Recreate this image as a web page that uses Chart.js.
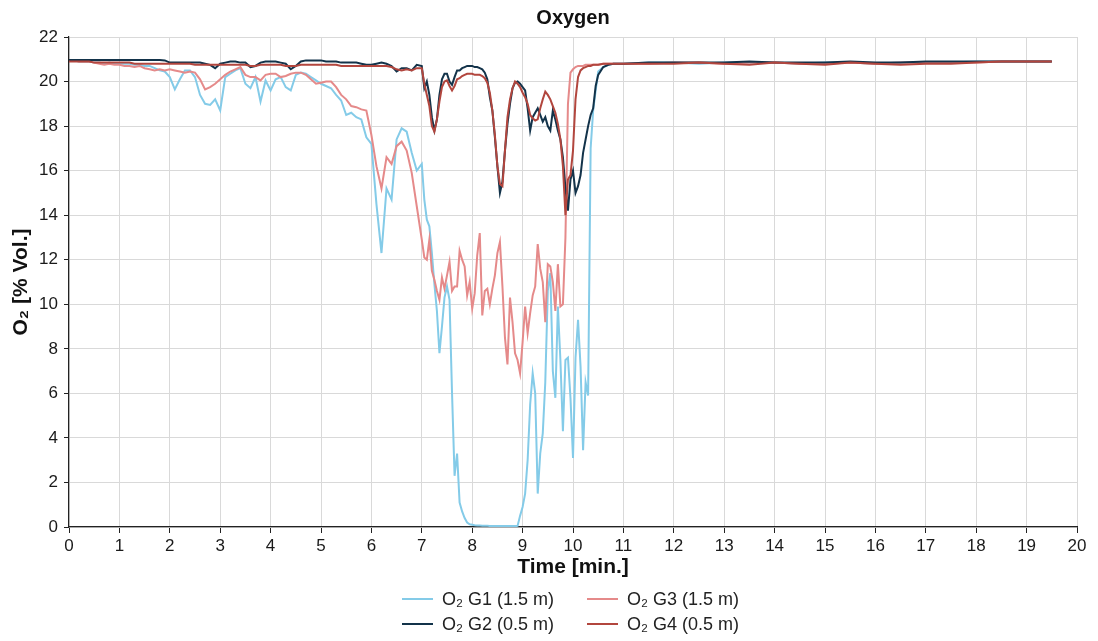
<!DOCTYPE html>
<html lang="en">
<head>
    <meta charset="UTF-8">
    <title>Oxygen</title>
    <script src="https://cdn.jsdelivr.net/npm/chart.js"></script>
    <style>
        body { margin: 0; background: #fff; font-family: "Liberation Sans", Arial, sans-serif; }
        #wrap { position: relative; width: 1098px; height: 641px; }
        #legend { position: absolute; left: 402px; top: 588px; display: grid; grid-template-columns: 185px 175px; row-gap: 3px; font-size: 18px; color: #222; }
        .item { display: flex; align-items: center; height: 22px; white-space: nowrap; }
        .swatch { width: 31px; height: 2px; margin-right: 9px; }
    </style>
</head>
<body>
    <div id="wrap">
        <canvas id="myChart" width="1098" height="641"></canvas>
        <div id="legend"></div>
    </div>

    <script>
        // sample times [min.]
        const times = [
            0, 0.1, 0.2, 0.3, 0.4, 0.5, 0.6, 0.7, 0.8, 0.9,
            1, 1.1, 1.2, 1.3, 1.4, 1.5, 1.6, 1.7, 1.8, 1.9,
            2, 2.1, 2.2, 2.3, 2.4, 2.5, 2.6, 2.7, 2.8, 2.9,
            3, 3.1, 3.2, 3.3, 3.4, 3.5, 3.6, 3.7, 3.8, 3.9,
            4, 4.1, 4.2, 4.3, 4.4, 4.5, 4.6, 4.7, 4.8, 4.9,
            5, 5.1, 5.2, 5.3, 5.4, 5.5, 5.6, 5.7, 5.8, 5.9,
            6, 6.1, 6.2, 6.3, 6.4, 6.5, 6.6, 6.7, 6.8, 6.9,
            7, 7.05, 7.1, 7.15, 7.2, 7.25, 7.3, 7.35, 7.4, 7.45, 7.5, 7.55, 7.6, 7.65, 7.7, 7.75, 7.8, 7.85, 7.9, 7.95,
            8, 8.05, 8.1, 8.15, 8.2, 8.25, 8.3, 8.35, 8.4, 8.45, 8.5, 8.55, 8.6, 8.65, 8.7, 8.75, 8.8, 8.85, 8.9, 8.95,
            9, 9.05, 9.1, 9.15, 9.2, 9.25, 9.3, 9.35, 9.4, 9.45, 9.5, 9.55, 9.6, 9.65, 9.7, 9.75, 9.8, 9.85, 9.9, 9.95,
            10, 10.05, 10.1, 10.15, 10.2, 10.25, 10.3, 10.35, 10.4, 10.45, 10.5,
            10.6, 10.7, 10.8, 10.9, 11,
            11.5, 12, 12.5, 13, 13.5, 14, 14.5, 15, 15.5, 16, 16.5, 17, 17.5, 18, 18.5, 19, 19.5
        ];

        // O2 G1 (1.5 m)
        const g1 = [
            20.95, 20.95, 20.9, 20.9, 20.9, 20.85, 20.85, 20.8, 20.85, 20.8,
            20.8, 20.8, 20.8, 20.75, 20.75, 20.7, 20.7, 20.6, 20.5, 20.45,
            20.2, 19.65, 20.1, 20.5, 20.5, 20.2, 19.4, 19.0, 18.95, 19.2,
            18.7, 20.2, 20.35, 20.5, 20.6, 19.9, 19.7, 20.2, 19.1, 20.05,
            19.6, 20.1, 20.2, 19.75, 19.6, 20.3, 20.4, 20.35, 20.2, 20.05,
            19.9, 19.8, 19.7, 19.4, 19.15, 18.5, 18.6, 18.4, 18.3, 17.5,
            17.2, 14.5, 12.3, 15.2, 14.7, 17.4, 17.9, 17.75, 16.8, 16.0,
            16.3, 14.7, 13.8, 13.5, 12.3, 10.9, 9.7, 7.8, 9.0, 10.3, 10.8, 10.2, 6.0, 2.3, 3.3, 1.1, 0.7, 0.4, 0.2, 0.12,
            0.1, 0.08, 0.07, 0.07, 0.06, 0.06, 0.06, 0.05, 0.05, 0.05, 0.05, 0.05, 0.04, 0.04, 0.04, 0.04, 0.04, 0.04, 0.05, 0.5,
            0.9, 1.5, 3.0, 5.5, 6.9, 6.0, 1.5, 3.3, 4.2, 6.5, 10.6, 11.4, 7.0, 5.8, 9.9, 7.5, 4.3, 7.5, 7.6, 5.8,
            3.1, 7.6, 9.3, 7.2, 3.45, 6.5, 5.9, 17.0, 18.7, 19.6, 20.45,
            20.65, 20.75, 20.8, 20.8, 20.8,
            20.85, 20.85, 20.8, 20.85, 20.85, 20.85, 20.8, 20.85, 20.85, 20.8, 20.85, 20.85, 20.85, 20.9, 20.9, 20.9, 20.9
        ];

        // O2 G2 (0.5 m)
        const g2 = [
            20.97, 20.97, 20.97, 20.97, 20.97, 20.97, 20.97, 20.97, 20.97, 20.97,
            20.97, 20.97, 20.97, 20.97, 20.97, 20.97, 20.97, 20.97, 20.97, 20.95,
            20.85, 20.85, 20.85, 20.85, 20.85, 20.85, 20.85, 20.8, 20.75, 20.6,
            20.8, 20.85, 20.9, 20.9, 20.85, 20.85, 20.65, 20.7, 20.85, 20.9,
            20.9, 20.9, 20.85, 20.8, 20.55, 20.7, 20.9, 20.95, 20.95, 20.95,
            20.95, 20.9, 20.9, 20.9, 20.85, 20.85, 20.85, 20.85, 20.8, 20.75,
            20.75, 20.8, 20.85, 20.8, 20.7, 20.45, 20.6, 20.6, 20.5, 20.75,
            20.7, 19.7, 20.0, 19.4, 18.4, 17.8, 18.3, 19.4, 20.1, 20.35, 20.35, 20.0, 19.85, 20.2, 20.5, 20.5, 20.6, 20.65, 20.7, 20.7,
            20.7, 20.65, 20.65, 20.6, 20.55, 20.4, 20.1, 19.3, 18.7, 17.5, 16.2, 15.0, 15.5, 16.9, 18.1, 19.0, 19.7, 19.95, 20.0, 19.9,
            19.75, 19.6, 18.8, 17.8, 18.4, 18.6, 18.8, 18.5, 18.2, 18.4, 18.0, 17.8, 18.7, 18.3, 17.8, 17.4, 16.6, 15.2, 14.2, 15.6,
            16.0, 15.0, 15.3, 15.8, 16.8, 17.4, 18.0, 18.5, 18.8, 19.8, 20.3,
            20.65, 20.75, 20.8, 20.8, 20.8,
            20.85, 20.85, 20.85, 20.85, 20.9, 20.85, 20.85, 20.85, 20.9, 20.85, 20.85, 20.9, 20.9, 20.9, 20.9, 20.9, 20.9
        ];

        // O2 G3 (1.5 m)
        const g3 = [
            20.95, 20.95, 20.9, 20.9, 20.9, 20.85, 20.8, 20.75, 20.8, 20.75,
            20.75, 20.7, 20.7, 20.65, 20.7, 20.6, 20.55, 20.5, 20.55, 20.5,
            20.55, 20.5, 20.45, 20.4, 20.45, 20.4, 20.1, 19.65, 19.75, 19.9,
            20.1, 20.3, 20.45, 20.55, 20.65, 20.3, 20.2, 20.2, 20.05, 20.3,
            20.35, 20.35, 20.2, 20.25, 20.35, 20.4, 20.4, 20.3, 20.1, 19.9,
            19.95, 20.0, 20.0, 19.75, 19.4, 19.2, 18.9, 18.85, 18.75, 18.7,
            17.6, 16.2, 15.2, 16.6, 16.3, 17.1, 17.3, 16.9, 15.9, 14.4,
            12.9, 12.1, 12.0, 12.9, 11.5, 11.1, 10.6, 10.2, 11.2, 10.7, 11.3, 11.9, 10.6, 10.8, 10.8, 12.4, 12.0, 11.7, 10.4, 11.0,
            9.8, 10.5, 12.2, 13.2, 9.5, 10.6, 10.7, 10.0, 10.7, 11.3, 12.3, 12.8, 10.8, 8.5, 7.3, 10.3, 9.2, 7.8, 7.5, 6.9,
            8.3, 9.9, 8.7, 9.6, 10.4, 10.8, 12.7, 11.6, 11.0, 9.2, 11.8, 11.7, 11.0, 9.7, 11.8, 9.9, 10.0, 13.0, 19.0, 20.4,
            20.55, 20.65, 20.7, 20.7, 20.7, 20.75, 20.75, 20.75, 20.75, 20.75, 20.75,
            20.8, 20.8, 20.8, 20.8, 20.8,
            20.8, 20.85, 20.85, 20.8, 20.85, 20.85, 20.8, 20.8, 20.85, 20.8, 20.85, 20.85, 20.85, 20.85, 20.9, 20.9, 20.9
        ];

        // O2 G4 (0.5 m)
        const g4 = [
            20.9, 20.9, 20.9, 20.9, 20.9, 20.85, 20.85, 20.85, 20.85, 20.85,
            20.85, 20.85, 20.85, 20.8, 20.8, 20.8, 20.8, 20.8, 20.8, 20.8,
            20.8, 20.8, 20.8, 20.8, 20.8, 20.75, 20.75, 20.75, 20.75, 20.75,
            20.75, 20.75, 20.75, 20.75, 20.75, 20.75, 20.7, 20.7, 20.75, 20.75,
            20.75, 20.75, 20.75, 20.7, 20.7, 20.7, 20.75, 20.75, 20.75, 20.75,
            20.75, 20.75, 20.75, 20.75, 20.7, 20.7, 20.7, 20.7, 20.7, 20.7,
            20.7, 20.7, 20.7, 20.7, 20.65, 20.55, 20.5, 20.55, 20.5, 20.6,
            20.6, 19.9, 19.4, 18.9, 18.0, 17.75, 18.3, 19.1, 19.75, 20.0, 20.05, 19.8, 19.6, 19.8, 20.1, 20.15, 20.25, 20.3, 20.35, 20.35,
            20.35, 20.3, 20.3, 20.3, 20.25, 20.15, 19.95, 19.5, 18.7, 17.6, 16.2, 15.4, 15.3, 16.9, 18.4, 19.2, 19.7, 20.0, 19.9, 19.75,
            19.5, 19.3, 19.0, 18.5, 18.35, 18.25, 18.3, 18.8, 19.2, 19.55, 19.4, 19.2, 18.9, 18.6, 18.1, 17.4, 16.2, 14.0, 15.6, 15.8,
            16.9, 19.2, 20.2, 20.5, 20.6, 20.65, 20.7, 20.7, 20.75, 20.75, 20.75,
            20.8, 20.8, 20.8, 20.8, 20.8,
            20.8, 20.8, 20.85, 20.8, 20.75, 20.85, 20.8, 20.75, 20.85, 20.8, 20.75, 20.8, 20.8, 20.85, 20.9, 20.9, 20.9
        ];

        const labels = ['O₂ G1 (1.5 m)', 'O₂ G2 (0.5 m)', 'O₂ G3 (1.5 m)', 'O₂ G4 (0.5 m)'];
        const colors = ['#84cbe8', '#13334a', '#e58a8a', '#b2463e'];
        const series = [g1, g2, g3, g4];
        const drawOrder = [3, 1, 2, 0];  // G4 on top

        const font = '"Liberation Sans", Arial, sans-serif';

        const datasets = series.map((vals, i) => ({
            label: labels[i],
            data: times.map((t, j) => ({ x: t, y: vals[j] })),
            borderColor: colors[i],
            borderWidth: 2,
            pointRadius: 0,
            tension: 0,
            fill: false,
            order: drawOrder[i]
        }));

        // title centred over the plot area, not the whole canvas
        const plotTitle = {
            id: 'plotTitle',
            afterDraw(chart) {
                const { ctx, chartArea } = chart;
                ctx.save();
                ctx.font = 'bold 20px ' + font;
                ctx.fillStyle = '#111';
                ctx.textAlign = 'center';
                ctx.textBaseline = 'middle';
                ctx.fillText('Oxygen', (chartArea.left + chartArea.right) / 2, 18);
                ctx.restore();
            }
        };

        const ctx = document.getElementById('myChart').getContext('2d');
        const chart = new Chart(ctx, {
            type: 'line',
            data: { datasets: datasets },
            options: {
                responsive: false,
                animation: false,
                layout: { padding: { left: 0, right: 21, top: 37, bottom: 61 } },
                plugins: {
                    legend: { display: false },
                    tooltip: { enabled: false }
                },
                scales: {
                    x: {
                        type: 'linear',
                        min: 0,
                        max: 20,
                        ticks: { stepSize: 1, maxRotation: 0, autoSkip: false, padding: 3, color: '#1a1a1a', font: { family: font, size: 17 } },
                        grid: { color: '#d9d9d9', tickColor: '#222', tickLength: 6 },
                        border: { color: '#222', width: 1.2 },
                        title: { display: true, text: 'Time [min.]', color: '#111', font: { family: font, size: 21, weight: 'bold' }, padding: { top: 0, bottom: 0 } },
                        afterFit: (scale) => { scale.height = 53; }
                    },
                    y: {
                        min: 0,
                        max: 22,
                        ticks: { stepSize: 2, padding: 6, color: '#1a1a1a', font: { family: font, size: 17 } },
                        grid: { color: '#d9d9d9', tickColor: '#222', tickLength: 5 },
                        border: { color: '#222', width: 1.2 },
                        title: { display: true, text: 'O₂ [% Vol.]', color: '#111', font: { family: font, size: 21, weight: 'bold' }, padding: { top: 9, bottom: 0 } },
                        afterFit: (scale) => { scale.width = 69; }
                    }
                }
            },
            plugins: [plotTitle]
        });

        // legend in two columns: G1 G3 / G2 G4
        const legend = document.getElementById('legend');
        [0, 2, 1, 3].forEach(i => {
            const item = document.createElement('div');
            item.className = 'item';
            item.innerHTML = '<span class="swatch" style="background:' + colors[i] + '"></span>' + labels[i];
            legend.appendChild(item);
        });
    </script>
</body>
</html>
